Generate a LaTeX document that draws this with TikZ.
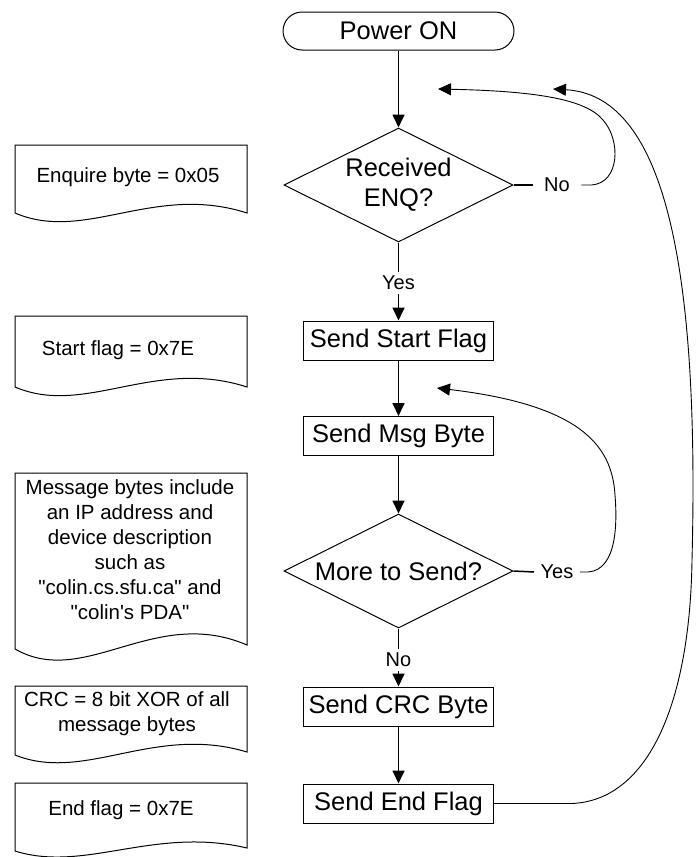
\documentclass[tikz,border=0pt]{standalone}
\usepackage{fontspec}
\newfontfamily\flowfont{Liberation Sans}
\usetikzlibrary{shapes.geometric,arrows.meta}

% Note sheet with a wavy lower edge: #1 top, #2 lower-left y, #3 wave depth, #4 rise of the right end
\newcommand{\flowdoc}[4]{%
  \draw[docline] (15,#1) -- (247,#1) -- (247,#2-#4)
    .. controls (154,#2-#4-#3) and (85,#2+#3) .. (15,#2) -- cycle;}

\begin{document}
\begin{tikzpicture}[x=1pt,y=-1pt,
  every node/.style={inner sep=0pt},
  boxfont/.style={font=\flowfont\fontsize{25.5pt}{30pt}\selectfont},
  notefont/.style={font=\flowfont\fontsize{20.5pt}{25pt}\selectfont, align=center},
  lblfont/.style={font=\flowfont\fontsize{20pt}{24pt}\selectfont},
  terminal/.style={draw, line width=1pt, rounded corners=19pt,
    minimum width=231pt, minimum height=38pt, boxfont},
  process/.style={draw, line width=1pt, minimum width=190pt,
    minimum height=39pt, boxfont},
  decision/.style={draw, line width=1pt, diamond, aspect=2,
    minimum width=229pt, minimum height=114pt, boxfont, align=center},
  branch/.style={lblfont, inner xsep=11pt, inner ysep=4pt},
  tip/.style={-{Triangle[length=13pt,width=12pt]}},
  flowline/.style={line width=1.7pt},
  flow/.style={flowline, tip},
  stub/.style={line width=1.5pt},
  loopback/.style={line width=0.9pt, tip},
  docline/.style={line width=1pt},
]
\useasboundingbox (0,0) rectangle (697,857);

% main column
\node[terminal] (pwr) at (398.5,31) {Power ON};
\node[decision] (d1) at (398.5,185) {Received\\ENQ?};
\node[branch] (y1) at (398.5,283) {Yes};
\node[process] (ssf) at (398.5,340.5) {Send Start Flag};
\node[process] (smb) at (398.5,436) {Send Msg Byte};
\node[decision] (d2) at (398.5,571) {More to Send?};
\node[branch] (n2) at (398.5,660) {No};
\node[process] (scb) at (398.5,706.5) {Send CRC Byte};
\node[process] (sef) at (398.5,803.5) {Send End Flag};

% side branch labels
\node[branch, inner xsep=11.5pt] (n1) at (557,185) {No};
\node[branch, inner xsep=6.5pt] (y2) at (557,572) {Yes};

% loose ends of the return arrows
\coordinate (tipA) at (438,89);
\coordinate (tipB) at (553,89);
\coordinate (tipC) at (437,388);
\coordinate (jE) at (572,803.5);

% vertical flow
\draw[flow] (pwr) -- (d1);
\draw[flowline] (d1) -- (y1);
\draw[flow] (y1) -- (ssf);
\draw[flow] (ssf) -- (smb);
\draw[flow] (smb) -- (d2);
\draw[flowline] (d2) -- (n2);
\draw[flow] (n2) -- (scb);
\draw[flow] (scb) -- (sef);

% "No" return loop
\draw[stub] (d1.east) -- (n1.west);
\draw[loopback] (n1.east) -- ++(10,0)
  .. controls (620,183) and (621,140) .. (603,120)
  .. controls (585,98) and (530,91) .. (tipA);

% "Yes" return loop
\draw[stub] (d2.east) -- (y2.west);
\draw[loopback] (y2.east) -- ++(8,0)
  .. controls (618,570) and (617,520) .. (615,495)
  .. controls (612,445) and (580,405) .. (tipC);

% restart loop from the end flag
\draw[stub, line width=1.8pt] (sef.east) -- (jE);
\draw[loopback] (jE)
  .. controls (650,800) and (690,700) .. (692,560)
  .. controls (700,250) and (660,95) .. (tipB);

% notes on the left
\flowdoc{145}{213}{30}{0}
\node[notefont] (t1) at (128,177) {Enquire byte = 0x05};

\flowdoc{316}{387}{30}{0}
\node[notefont] (t2) at (118,350) {Start flag = 0x7E};

\flowdoc{473}{649}{40}{4}
\node[notefont] (t3) at (130,550) {Message bytes include\\an IP address and\\device description\\such as\\"colin.cs.sfu.ca" and\\"colin's PDA"};

\flowdoc{686}{755}{28}{3}
\node[notefont] (t4) at (127,714) {CRC = 8 bit XOR of all\\message bytes};

\flowdoc{783}{851}{22}{3}
\node[notefont] (t5) at (121,810) {End flag = 0x7E};
\end{tikzpicture}
\end{document}
